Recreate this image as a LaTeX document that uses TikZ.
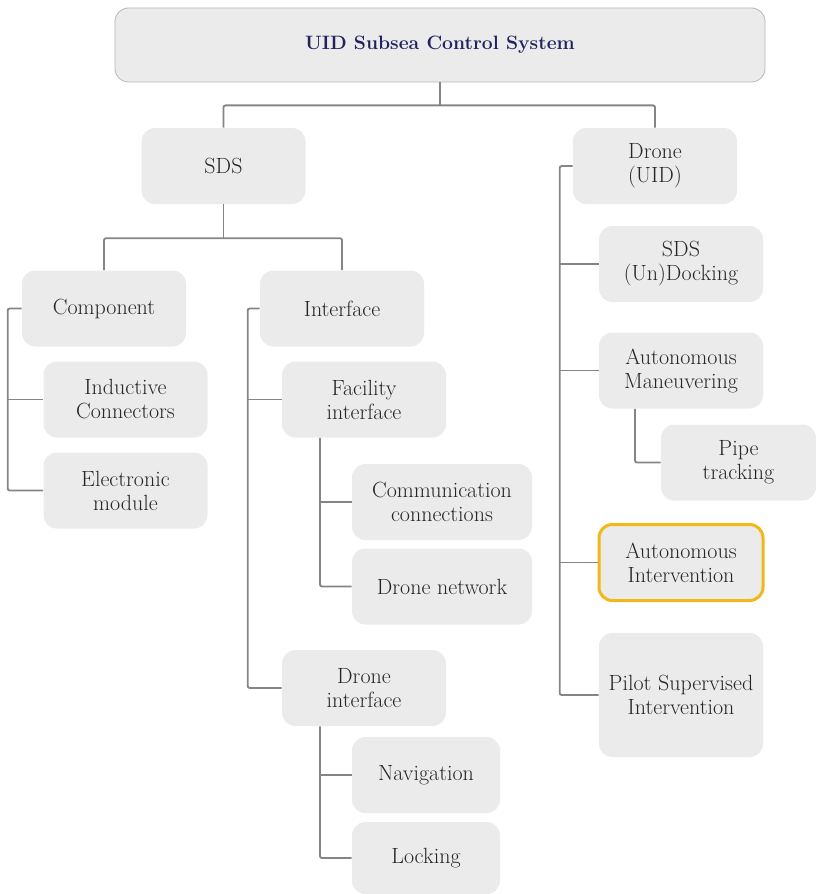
\documentclass[tikz,border=0pt]{standalone}
\usetikzlibrary{positioning}
\definecolor{boxgray}{HTML}{EBEBEB}
\definecolor{linegray}{HTML}{858585}
\definecolor{textgray}{HTML}{262626}
\definecolor{titleblue}{HTML}{22225E}
\definecolor{markyellow}{HTML}{F2B817}
\begin{document}
\begin{tikzpicture}[x=0.75pt,y=-0.75pt,
  box/.style={fill=boxgray,rounded corners=10pt,align=center,text=textgray,
    minimum width=123pt,minimum height=57pt,inner sep=2pt,
    font=\fontsize{16.5}{18}\selectfont},
  link/.style={draw=linegray,line width=1.4pt,rounded corners=1.5pt}]
  \useasboundingbox (0,0) rectangle (816,894);
  \node[box,minimum width=487.5pt,minimum height=55.5pt,draw=linegray!60,line width=0.6pt,
    font=\fontsize{14.5}{17}\selectfont\bfseries,text=titleblue] (top) at (440,45) {UID Subsea Control System};
  \node[box] (sds) at (223.5,166) {SDS};
  \node[box] (drone) at (655,166) {Drone\\(UID)};
  \node[box] (comp) at (104,308.5) {Component};
  \node[box] (intf) at (342,308.5) {Interface};
  \node[box] (ind) at (125.5,399.5) {Inductive\\Connectors};
  \node[box] (elec) at (125.5,490.5) {Electronic\\module};
  \node[box] (fac) at (364,399.5) {Facility\\interface};
  \node[box,minimum width=135pt] (comm) at (442,502) {Communication\\connections};
  \node[box,minimum width=135pt] (net) at (442,586.5) {Drone network};
  \node[box] (dint) at (364,688) {Drone\\interface};
  \node[box,minimum width=111pt] (nav) at (426,775) {Navigation};
  \node[box,minimum width=111pt,minimum height=54pt] (lock) at (426,858) {Locking};
  \node[box] (undock) at (681,264) {SDS\\(Un)Docking};
  \node[box] (man) at (681,370.5) {Autonomous\\Maneuvering};
  \node[box,minimum width=116.25pt] (pipe) at (738.5,462.5) {Pipe\\tracking};
  \node[box,draw=markyellow,line width=2.25pt] (ai) at (681,562.5) {Autonomous\\Intervention};
  \node[box,minimum height=93pt] (psi) at (681,695) {Pilot Supervised\\Intervention};

  \path (top.south) ++(0,23) coordinate (topbus);
  \draw[link] (sds) |- (topbus) -| (drone);
  \draw[link] (top) -- (topbus);
  \path (sds.south) ++(0,34) coordinate (sdsbus);
  \draw[link] (comp) |- (sdsbus) -| (intf);
  \draw[link] (sds) -- (sdsbus);

  \draw[link] (comp.west) -- ++(-14,0) coordinate (cspine) |- (elec.west);
  \draw[link] (cspine |- ind.west) -- (ind.west);
  \draw[link] (intf.west) -- ++(-12,0) coordinate (ispine) |- (dint.west);
  \draw[link] (ispine |- fac.west) -- (fac.west);
  \draw[link] ([xshift=-33pt]fac.south) coordinate (fspine) |- (net.west);
  \draw[link] (fspine |- comm.west) -- (comm.west);
  \draw[link] ([xshift=-33pt]dint.south) coordinate (dispine) |- (lock.west);
  \draw[link] (dispine |- nav.west) -- (nav.west);

  \draw[link] (drone.west) -- ++(-13,0) coordinate (uspine) |- (psi.west);
  \foreach \n in {undock,man,ai}
    \draw[link] (uspine |- \n.west) -- (\n.west);
  \draw[link] ([xshift=-34.5pt]man.south) |- (pipe.west);
\end{tikzpicture}
\end{document}
